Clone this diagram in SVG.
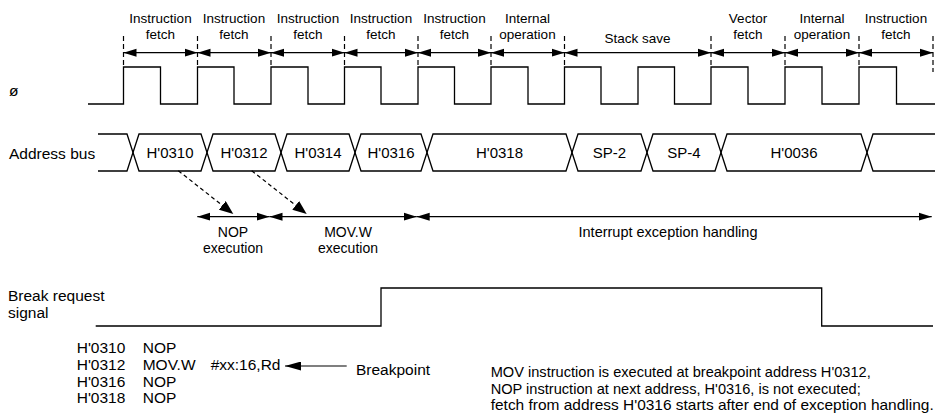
<svg xmlns="http://www.w3.org/2000/svg" width="935" height="413" viewBox="0 0 935 413">
<style>
text{font-family:"Liberation Sans",Arial,sans-serif;fill:#000}
.top{font-size:13.5px;text-anchor:middle}
.bus{font-size:15px;text-anchor:middle}
.lbl{font-size:15.5px}
.exe{font-size:14px;text-anchor:middle}
.wave{fill:none;stroke:#000;stroke-width:1.3}
.dash{fill:none;stroke:#000;stroke-width:1.2;stroke-dasharray:5,3}
.arr{fill:none;stroke:#000;stroke-width:1.2}
</style>
<defs>
<marker id="ah" markerUnits="userSpaceOnUse" markerWidth="14" markerHeight="9" refX="13" refY="4.5" orient="auto-start-reverse"><path d="M0,0.5 L13,4.5 L0,8.5 z" fill="#000"/></marker>
<marker id="ahd" markerUnits="userSpaceOnUse" markerWidth="15" markerHeight="11" refX="14" refY="5.5" orient="auto"><path d="M0,0 L14,5.5 L0,11 z" fill="#000"/></marker>
<marker id="ahb" markerUnits="userSpaceOnUse" markerWidth="17" markerHeight="9" refX="16" refY="4.5" orient="auto"><path d="M0,0 L16,4.5 L0,9 z" fill="#000"/></marker>
</defs>

<g id="signal-labels">
<text class="lbl" x="9" y="96">ø</text>
<text class="lbl" x="9" y="159">Address bus</text>
<text class="lbl" x="8" y="301">Break request</text>
<text class="lbl" x="8" y="318">signal</text>
</g>

<g id="phase-labels">
<text class="top" x="160.5" y="22.5">Instruction</text><text class="top" x="160.5" y="38.5">fetch</text>
<text class="top" x="234" y="22.5">Instruction</text><text class="top" x="234" y="38.5">fetch</text>
<text class="top" x="308" y="22.5">Instruction</text><text class="top" x="308" y="38.5">fetch</text>
<text class="top" x="381" y="22.5">Instruction</text><text class="top" x="381" y="38.5">fetch</text>
<text class="top" x="454.5" y="22.5">Instruction</text><text class="top" x="454.5" y="38.5">fetch</text>
<text class="top" x="527.5" y="22.5">Internal</text><text class="top" x="527.5" y="38.5">operation</text>
<text class="top" x="637.5" y="43">Stack save</text>
<text class="top" x="748" y="22.5">Vector</text><text class="top" x="748" y="38.5">fetch</text>
<text class="top" x="822" y="22.5">Internal</text><text class="top" x="822" y="38.5">operation</text>
<text class="top" x="896" y="22.5">Instruction</text><text class="top" x="896" y="38.5">fetch</text>
</g>

<g id="phase-marks">
<path class="dash" d="M123.5,36V68 M197.5,36V68 M271,36V68 M344.5,36V68 M418,36V68 M491,36V68 M564.5,36V68 M711,36V68 M785,36V68 M859,36V68 M933,36V72"/>
</g>

<g id="clock">
<path class="wave" d="M88,104 H123.5 V67 H160.5 V104 H197.5 V67 H234 V104 H271 V67 H308 V104 H344.5 V67 H381 V104 H418 V67 H454.5 V104 H491 V67 H528 V104 H564.5 V67 H601 V104 H638 V67 H674.5 V104 H711 V67 H748 V104 H785 V67 H822 V104 H859 V67 H896.5 V104 H935"/>
</g>

<g id="address-bus">
<path class="wave" d="M98,134 H127 L139,171 H201 L213,134 H275 L287,171 H349 L361,134 H421 L433,171 H566 L578,134 H641 L653,171 H715 L727,134 H861 L873,171 H935"/>
<path class="wave" d="M98,171 H127 L139,134 H201 L213,171 H275 L287,134 H349 L361,171 H421 L433,134 H566 L578,171 H641 L653,134 H715 L727,171 H861 L873,134 H935"/>
<text class="bus" x="170" y="157.5">H'0310</text>
<text class="bus" x="244" y="157.5">H'0312</text>
<text class="bus" x="318" y="157.5">H'0314</text>
<text class="bus" x="391" y="157.5">H'0316</text>
<text class="bus" x="499.5" y="157.5">H'0318</text>
<text class="bus" x="609.5" y="157.5">SP-2</text>
<text class="bus" x="684" y="157.5">SP-4</text>
<text class="bus" x="794" y="157.5">H'0036</text>
</g>

<g id="execution-labels">
<text class="exe" x="233" y="237">NOP</text><text class="exe" x="233" y="253">execution</text>
<text class="exe" x="348" y="237">MOV.W</text><text class="exe" x="348" y="253">execution</text>
<text class="exe" x="668" y="237" style="font-size:14.5px">Interrupt exception handling</text>
</g>

<g id="break-signal">
<path class="wave" d="M95.7,326 H381 V288 H821.7 V326 H933"/>
</g>

<g id="code-listing">
<text class="lbl" x="76.7" y="353">H'0310</text><text class="lbl" x="142.7" y="353">NOP</text>
<text class="lbl" x="76.7" y="370">H'0312</text><text class="lbl" x="142.7" y="370">MOV.W</text><text class="lbl" x="210.7" y="370">#xx:16,Rd</text>
<text class="lbl" x="76.7" y="386.5">H'0316</text><text class="lbl" x="142.7" y="386.5">NOP</text>
<text class="lbl" x="76.7" y="403">H'0318</text><text class="lbl" x="142.7" y="403">NOP</text>
</g>

<g id="breakpoint-label">
<text class="lbl" x="356" y="375">Breakpoint</text>
</g>

<g id="note">
<text class="lbl" x="490.7" y="377" style="font-size:15px" textLength="380" lengthAdjust="spacingAndGlyphs">MOV instruction is executed at breakpoint address H'0312,</text>
<text class="lbl" x="490.7" y="393.5" style="font-size:15px" textLength="370" lengthAdjust="spacingAndGlyphs">NOP instruction at next address, H'0316, is not executed;</text>
<text class="lbl" x="490.7" y="410" style="font-size:15px" textLength="443" lengthAdjust="spacingAndGlyphs">fetch from address H'0316 starts after end of exception handling.</text>
</g>

<g id="connectors">
<path class="arr" marker-start="url(#ah)" marker-end="url(#ah)" d="M123.5,52.7H197.5"/>
<path class="arr" marker-start="url(#ah)" marker-end="url(#ah)" d="M197.5,52.7H271"/>
<path class="arr" marker-start="url(#ah)" marker-end="url(#ah)" d="M271,52.7H344.5"/>
<path class="arr" marker-start="url(#ah)" marker-end="url(#ah)" d="M344.5,52.7H418"/>
<path class="arr" marker-start="url(#ah)" marker-end="url(#ah)" d="M418,52.7H491"/>
<path class="arr" marker-start="url(#ah)" marker-end="url(#ah)" d="M491,52.7H564.5"/>
<path class="arr" marker-start="url(#ah)" marker-end="url(#ah)" d="M564.5,52.7H711"/>
<path class="arr" marker-start="url(#ah)" marker-end="url(#ah)" d="M711,52.7H785"/>
<path class="arr" marker-start="url(#ah)" marker-end="url(#ah)" d="M785,52.7H859"/>
<path class="arr" marker-start="url(#ah)" marker-end="url(#ah)" d="M859,52.7H933"/>
<path class="arr" marker-start="url(#ah)" marker-end="url(#ah)" d="M197.3,216.7H269.5"/>
<path class="arr" marker-start="url(#ah)" marker-end="url(#ah)" d="M269.5,216.7H416.7"/>
<path class="arr" marker-start="url(#ah)" marker-end="url(#ah)" d="M416.7,216.7H931.7"/>
<path class="dash" style="stroke-dasharray:4,3" marker-end="url(#ahd)" d="M178.3,170.7L233.3,214"/>
<path class="dash" style="stroke-dasharray:4,3" marker-end="url(#ahd)" d="M251.7,170.7L306.7,214"/>
<path class="arr" marker-end="url(#ahb)" d="M346.7,366H285"/>
</g>
</svg>
